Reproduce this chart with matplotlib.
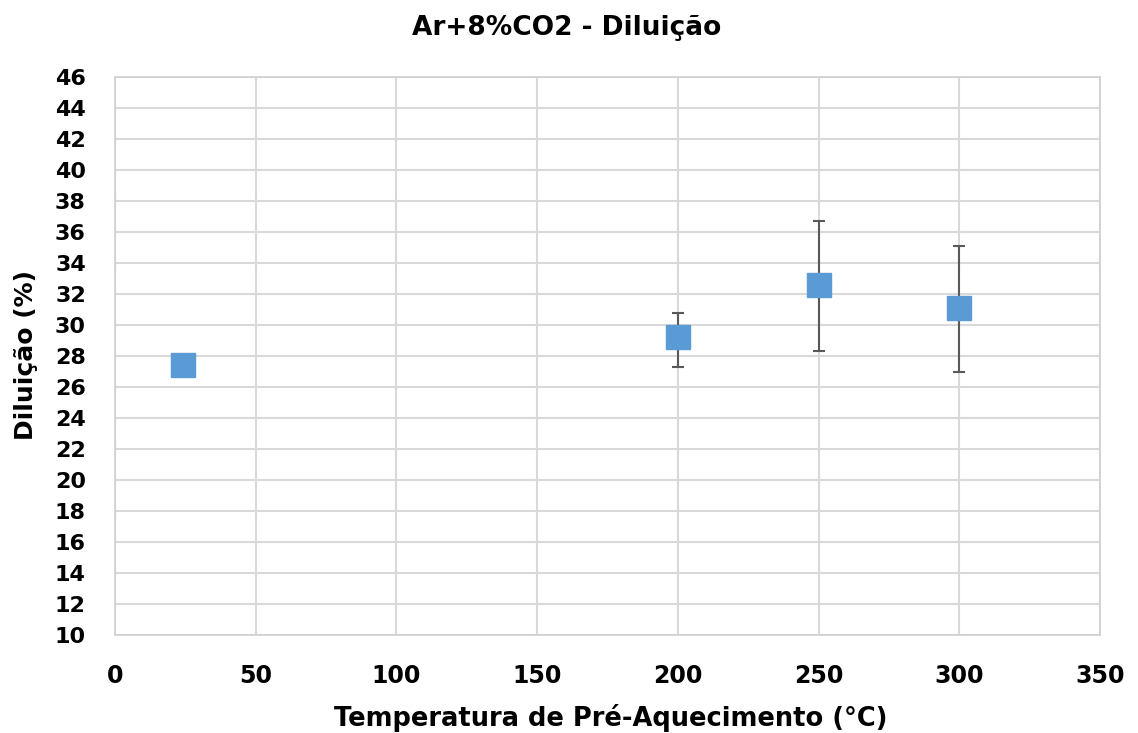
import matplotlib.pyplot as plt
import numpy as np

# data
temperatura = [24, 200, 250, 300]
diluicao = [27.4, 29.25, 32.55, 31.1]
erro_inf = [0.0, 1.95, 4.25, 4.1]
erro_sup = [0.0, 1.55, 4.15, 4.0]

x_ticks = np.arange(0, 351, 50)
y_ticks = np.arange(10, 47, 2)

plt.rcParams["font.family"] = ["DejaVu Sans"]

W, H = 1138, 733
fig = plt.figure(figsize=(W / 100, H / 100), dpi=100)
ax = fig.add_axes([115 / W, 1 - 635 / H, 985 / W, 558 / H])

ax.errorbar(
    temperatura,
    diluicao,
    yerr=[erro_inf, erro_sup],
    fmt="none",
    ecolor="#595959",
    elinewidth=1.5,
    capsize=4,
    capthick=1.5,
    zorder=3,
)
ax.plot(
    temperatura,
    diluicao,
    linestyle="none",
    marker="s",
    markersize=17,
    color="#5B9BD5",
    zorder=4,
)

ax.set_xlim(0, 350)
ax.set_ylim(10, 46)
ax.set_xticks(x_ticks)
ax.set_yticks(y_ticks)
ax.grid(True, color="#d9d9d9", linewidth=1.5)
ax.set_axisbelow(True)
for spine in ax.spines.values():
    spine.set_color("#d0d0d0")
    spine.set_linewidth(1.2)

ax.tick_params(axis="both", length=0)
ax.tick_params(axis="x", pad=21)
ax.tick_params(axis="y", pad=21)
for lbl in ax.get_xticklabels():
    lbl.set_fontsize(17)
    lbl.set_fontweight("bold")
for lbl in ax.get_yticklabels():
    lbl.set_fontsize(16)
    lbl.set_fontweight("bold")

fig.text(567 / W, 1 - 35 / H, "Ar+8%CO2 - Diluição", fontsize=19,
         fontweight="bold", ha="center", va="baseline")
fig.text(611 / W, 1 - 726 / H, "Temperatura de Pré-Aquecimento (°C)",
         fontsize=18.5, fontweight="bold", ha="center", va="baseline")
fig.text(26 / W, 1 - 355 / H, "Diluição (%)", fontsize=18,
         fontweight="bold", ha="center", va="center", rotation=90)

fig.savefig("out.png", dpi=100)
plt.close(fig)
